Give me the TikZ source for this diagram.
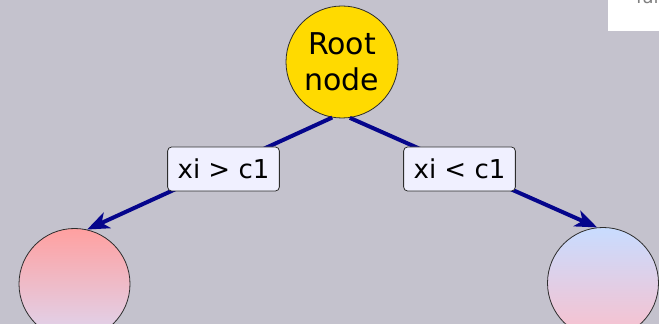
\documentclass[tikz,border=0pt]{standalone}
\usepackage{fontspec}
\setmainfont{DejaVu Sans}
\usetikzlibrary{arrows.meta}

\definecolor{backgr}{RGB}{196,194,205}
\definecolor{rootgold}{RGB}{255,218,0}
\definecolor{condfill}{RGB}{240,240,255}
\definecolor{edgenavy}{RGB}{5,5,140}
\definecolor{rimgray}{RGB}{45,45,45}

\begin{document}
\begin{tikzpicture}[x=1pt,y=1pt,
    treenode/.style={circle,draw=rimgray,line width=0.8pt,minimum size=112pt,inner sep=0pt,
        font=\fontsize{30}{36}\selectfont,align=center},
    leafnode/.style={treenode,minimum size=111pt},
    cond/.style={draw=rimgray,line width=0.8pt,fill=condfill,rounded corners=4pt,
        minimum width=111pt,minimum height=44pt,inner xsep=10pt,font=\fontsize{26}{30}\selectfont},
    branch/.style={draw=edgenavy,line width=4pt,-{Stealth[length=22pt,width=17pt,inset=6pt]}}]

    % Canvas
    \useasboundingbox (0,0) rectangle (659,324);
    \clip (0,0) rectangle (659,324);
    \fill[backgr] (0,0) rectangle (659,324);

    % Legend box in the corner
    \fill[white] (608,293) rectangle (670,330);
    \node[anchor=base west,text=gray,font=\fontsize{18}{22}\selectfont,inner sep=0pt] (hint) at (636,320) {fal};

    % Tree nodes
    \node[treenode,fill=rootgold] (root) at (342,262) {Root\\node};
    \node[leafnode,top color={rgb,255:red,255;green,160;blue,160},bottom color={rgb,255:red,222;green,214;blue,240}] (leafL) at (74.5,40) {};
    \node[leafnode,top color={rgb,255:red,200;green,220;blue,255},bottom color={rgb,255:red,250;green,192;blue,204}] (leafR) at (603,41) {};

    % Branches
    \draw[branch] (root.260) -- (leafL.77);
    \draw[branch] (root.278) -- (leafR.96);

    % Split conditions
    \node[cond] (condL) at (223.5,155) {xi > c1};
    \node[cond] (condR) at (459.5,155) {xi < c1};
\end{tikzpicture}
\end{document}
